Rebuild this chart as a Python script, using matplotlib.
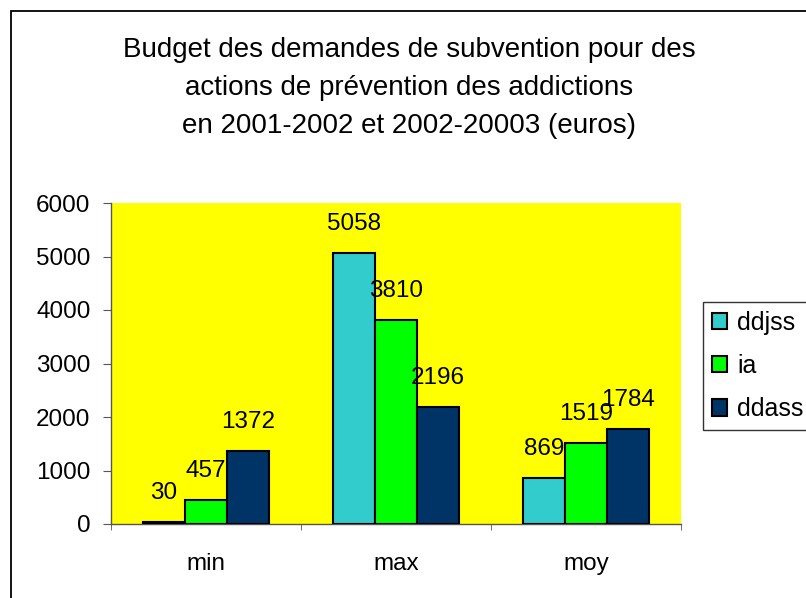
import matplotlib
matplotlib.use("Agg")
from matplotlib import pyplot as plt
from matplotlib.patches import Rectangle
import numpy as np

plt.rcParams['font.family'] = ['Liberation Sans', 'DejaVu Sans']

categories = ["min", "max", "moy"]
series_names = ["ddjss", "ia", "ddass"]
ddjss = [30, 5058, 869]
ia = [457, 3810, 1519]
ddass = [1372, 2196, 1784]
colors = ["#33CCCC", "#00FF00", "#003366"]
y_ticks = [0, 1000, 2000, 3000, 4000, 5000, 6000]
title_lines = ["Budget des demandes de subvention pour des",
               "actions de prévention des addictions",
               "en 2001-2002 et 2002-20003 (euros)"]

W, H = 806, 598
fig = plt.figure(figsize=(W / 100, H / 100), dpi=100)
fig.patch.set_facecolor("white")

# outer chart border (runs off the right and bottom edges like the original)
fig.patches.append(Rectangle((11 / W, -0.1), 1.2, 1 - 11 / H + 0.1,
                             transform=fig.transFigure, fill=False,
                             edgecolor="black", linewidth=1.3))

ax = fig.add_axes([111 / W, 74 / H, 570 / W, 321 / H])
ax.set_facecolor("#FFFF00")

x = np.arange(len(categories))
w = 1 / 4.5
all_series = [ddjss, ia, ddass]
for i, vals in enumerate(all_series):
    pos = x + (i - 1) * w
    bars = ax.bar(pos, vals, width=w, color=colors[i], edgecolor="black",
                  linewidth=1.5, label=series_names[i], zorder=3)
    for b, v in zip(bars, vals):
        ax.annotate(str(v), (b.get_x() + b.get_width() / 2, v),
                    xytext=(0, 16.5), textcoords="offset points",
                    ha="center", va="baseline", fontsize=17.5)

ax.set_xlim(-0.5, len(categories) - 0.5)
ax.set_ylim(0, 6000)
ax.set_yticks(y_ticks)
ax.set_yticklabels([str(t) for t in y_ticks], fontsize=17.5)
ax.set_xticks(x)
ax.set_xticklabels(categories, fontsize=17.5)
ax.tick_params(axis="x", length=0, pad=21)
ax.set_xticks(np.arange(len(categories) + 1) - 0.5, minor=True)
ax.tick_params(axis="x", which="minor", length=4.5, color="#555555")
ax.tick_params(axis="y", length=5.8, color="#555555", pad=9)

for s in ["top", "right"]:
    ax.spines[s].set_visible(False)
for s in ["left", "bottom"]:
    ax.spines[s].set_color("#555555")
    ax.spines[s].set_linewidth(1.0)

# title, one line at a time (baselines from the original)
for line, yb in zip(title_lines, [57, 95, 133]):
    fig.text(409 / W, 1 - yb / H, line, ha="center", va="baseline",
             fontsize=20)

leg = fig.legend(loc="upper left", bbox_to_anchor=(703 / W, 1 - 302 / H),
                 fontsize=18, frameon=True, fancybox=False,
                 edgecolor="black", handlelength=0.62, handleheight=0.62,
                 handletextpad=0.4, borderaxespad=0, borderpad=0.35,
                 labelspacing=0.77)
leg.get_frame().set_linewidth(1.0)

fig.savefig("out.png", dpi=100)
